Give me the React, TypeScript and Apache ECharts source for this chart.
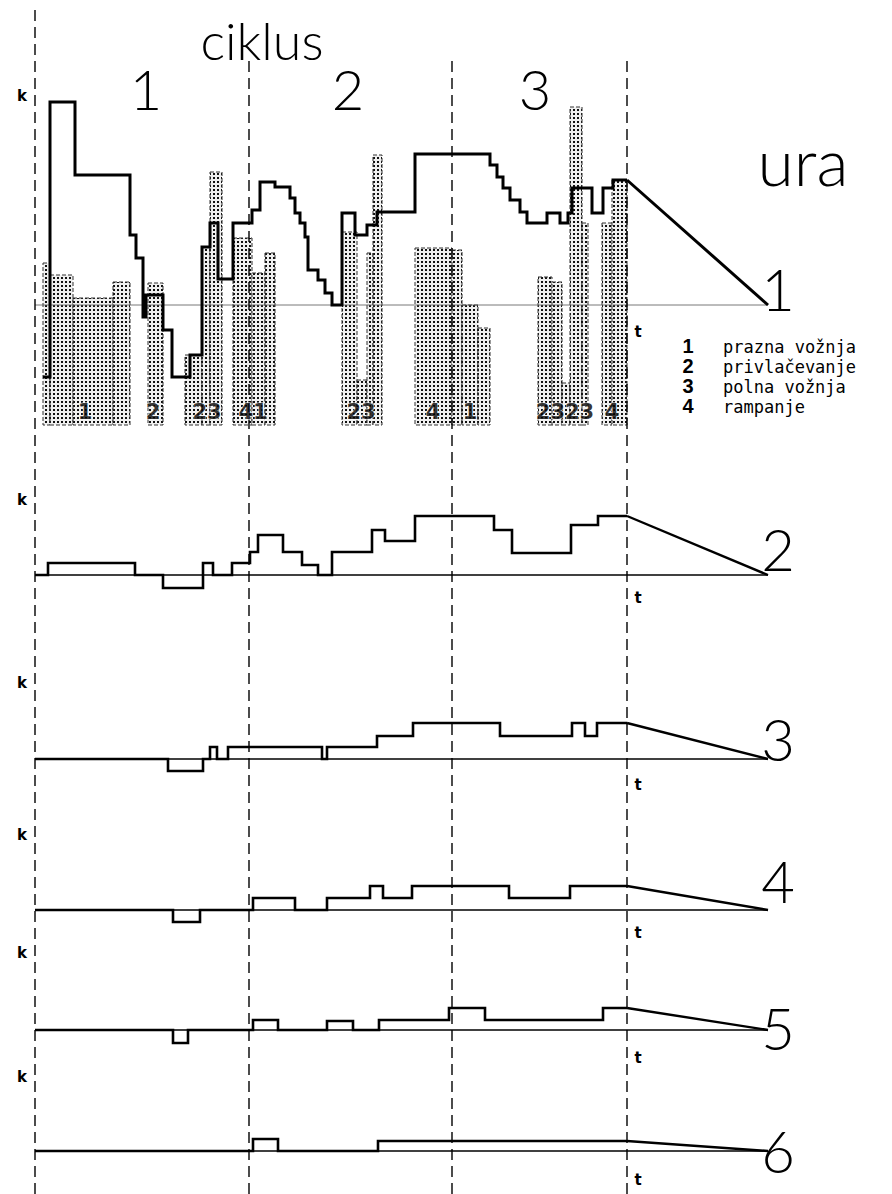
import React, { useEffect, useRef } from "react";
import * as echarts from "echarts";

// ---------- data (time axis t: 0 = start of cycle 1, 1 unit of t / k as drawn) ----------
const tEnd = 73.3;
const cycleBounds = [0, 21.4, 41.7, 59.2];
const cycleLineTop = [0.996, 0.95, 0.95, 0.95];

const cycleNames = ["1", "2", "3"];
const panelNames = ["1", "2", "3", "4", "5", "6"];

// panel 1 : stepped "ura" curve (t, k) – value holds from t onwards
const ura1 = [
  [0.8, -7.2], [1.5, 20.3], [4.0, 13.0], [9.5, 7.0], [10.1, 4.7], [10.8, -1.2],
  [11.1, 1.0], [12.8, -2.5], [13.7, -7.2], [15.5, -5.0], [16.7, 5.8], [17.5, 8.2],
  [18.3, 2.6], [19.8, 8.2], [21.7, 9.5], [22.5, 12.3], [24.0, 11.8], [25.5, 10.7],
  [26.0, 9.2], [26.5, 8.2], [27.0, 6.8], [27.3, 3.5], [28.3, 2.5], [29.0, 1.2],
  [29.7, 0], [30.7, 9.2], [32.0, 7.0], [33.2, 8.0], [34.2, 9.3], [38.0, 15.1],
  [45.5, 14.0], [46.2, 12.8], [46.8, 11.7], [47.5, 10.5], [48.5, 9.3], [49.2, 8.2],
  [51.2, 9.2], [52.5, 8.2], [53.3, 9.2], [53.7, 11.7], [55.7, 9.2], [56.8, 11.7],
  [57.8, 12.5], [59.2, 12.5],
];
// panel 1 : shaded operation blocks [tStart, tEnd, kTop]
const barBase = -12.0;
const ops1 = [
  [0.8, 1.5, 4.2], [1.5, 3.8, 3.0], [3.8, 7.8, 0.7], [7.8, 9.5, 2.3],
  [11.3, 12.8, 2.2],
  [15.0, 16.7, -5.0], [16.7, 17.5, 5.8], [17.5, 18.7, 13.3],
  [19.8, 21.7, 6.7], [21.7, 23.0, 3.2], [23.0, 24.0, 5.2],
  [30.7, 32.2, 7.3], [32.2, 33.2, -7.5], [33.2, 33.8, 5.2], [33.8, 34.7, 15.0],
  [38.0, 41.7, 5.7], [41.7, 42.7, 5.5], [42.7, 44.3, 0.0], [44.3, 45.5, -2.3],
  [50.3, 51.7, 2.8], [51.7, 52.7, 2.3], [52.7, 53.5, -7.8], [53.5, 54.7, 19.8], [54.7, 55.3, 8.2],
  [56.7, 57.7, 8.2], [57.7, 59.2, 12.5],
];
const opLabels = ["1", "2", "23", "41", "23", "4", "1", "2323", "4"];
const opLabelT = [5.0, 11.8, 17.2, 21.8, 32.6, 39.8, 43.5, 53.0, 57.7];
const opLabelK = -10.7;

const ura2 = [
  [0, 0], [1.3, 1.2], [10.0, 0], [12.8, -1.3], [16.8, 1.2], [17.8, 0], [19.7, 1.2],
  [21.5, 2.3], [22.3, 4.0], [24.8, 2.3], [26.7, 1.0], [28.3, 0], [29.7, 2.3],
  [33.7, 4.5], [35.0, 3.4], [38.0, 5.9], [45.9, 4.5], [47.7, 2.2], [53.6, 5.0],
  [56.3, 5.9], [59.2, 5.9],
];
const ura3 = [
  [0, 0], [13.3, -1.2], [16.8, 0], [17.5, 1.2], [18.2, 0], [19.3, 1.2], [28.7, 0],
  [29.2, 1.2], [34.2, 2.3], [37.8, 3.6], [46.5, 2.3], [53.7, 3.6], [55.0, 2.3],
  [56.2, 3.6], [59.2, 3.6],
];
const ura4 = [
  [0, 0], [13.8, -1.2], [16.5, 0], [21.8, 1.2], [26.0, 0], [29.2, 1.2], [33.5, 2.4],
  [34.8, 1.2], [37.7, 2.4], [47.4, 1.2], [53.5, 2.4], [59.2, 2.4],
];
const ura5 = [
  [0, 0], [13.8, -1.3], [15.3, 0], [21.8, 1.0], [24.3, 0], [29.2, 0.9], [31.8, 0],
  [34.4, 1.0], [41.4, 2.2], [45.0, 1.0], [56.8, 2.2], [59.2, 2.2],
];
const ura6 = [
  [0, 0], [21.8, 1.2], [24.3, 0], [34.3, 1.0], [59.2, 1.0],
];

const legendNums = ["1", "2", "3", "4"];
const legendTexts = ["prazna vožnja", "privlačevanje", "polna vožnja", "rampanje"];

// ---------- layout ----------
const W = 892;
const H = 1194;
const PX = 10; // pixels per unit
const gridLeft = 35;
const panelLayout = [
  { top: 95, yMin: -12, yMax: 21 },
  { top: 505, yMin: -2, yMax: 7 },
  { top: 709, yMin: -2, yMax: 5 },
  { top: 870, yMin: -2, yMax: 4 },
  { top: 1000, yMin: -2, yMax: 3 },
  { top: 1131, yMin: -2, yMax: 2 },
];
const kLabelY = [96, 500, 683, 835, 953, 1077];
const tLabelY = [332, 598, 785, 933, 1058, 1180];
const panelNameY = [288, 548, 738, 880, 1027, 1150];

function makeDots() {
  const c = document.createElement("canvas");
  c.width = 4;
  c.height = 4;
  const ctx = c.getContext("2d");
  if (ctx) {
    ctx.fillStyle = "#f0f0f0";
    ctx.fillRect(0, 0, 4, 4);
    ctx.fillStyle = "#111";
    ctx.fillRect(1, 1, 2, 2);
  }
  return c;
}

export default function App() {
  const ref = useRef<HTMLDivElement>(null);
  useEffect(() => {
    if (!ref.current) return;
    const chart = echarts.init(ref.current, undefined, { renderer: "svg" });
    const dots = makeDots();
    const pattern: any = { image: dots, repeat: "repeat", imageWidth: 4, imageHeight: 4 };

    const grids: any[] = [];
    const xAxes: any[] = [];
    const yAxes: any[] = [];
    const series: any[] = [];
    const hiddenAxis = { show: false };

    panelLayout.forEach((p) => {
      grids.push({ left: gridLeft, top: p.top, width: tEnd * PX, height: (p.yMax - p.yMin) * PX });
      xAxes.push({ type: "value", min: 0, max: tEnd, gridIndex: grids.length - 1, ...hiddenAxis });
      yAxes.push({ type: "value", min: p.yMin, max: p.yMax, gridIndex: grids.length - 1, ...hiddenAxis });
    });
    // page-wide grid for the cycle separators
    grids.push({ left: gridLeft, top: 0, width: tEnd * PX, height: H });
    xAxes.push({ type: "value", min: 0, max: tEnd, gridIndex: 6, ...hiddenAxis });
    yAxes.push({ type: "value", min: 0, max: 1, gridIndex: 6, ...hiddenAxis });

    const curves = [ura1, ura2, ura3, ura4, ura5, ura6];

    // panel 1 shaded blocks
    series.push({
      type: "custom",
      xAxisIndex: 0,
      yAxisIndex: 0,
      data: ops1,
      encode: { x: [0, 1], y: 2 },
      z: 1,
      renderItem: (params: any, api: any) => {
        const a = api.coord([api.value(0), api.value(2)]);
        const b = api.coord([api.value(1), barBase]);
        return {
          type: "rect",
          shape: { x: a[0], y: a[1], width: b[0] - a[0], height: b[1] - a[1] },
          style: { fill: pattern, stroke: "#333", lineWidth: 1, lineDash: [4, 2] },
        };
      },
    });
    series.push({
      type: "scatter",
      xAxisIndex: 0,
      yAxisIndex: 0,
      symbolSize: 0,
      z: 5,
      data: opLabels.map((n, i) => ({ name: n, value: [opLabelT[i], opLabelK] })),
      label: {
        show: true,
        position: "inside",
        formatter: "{b}",
        fontFamily: "DejaVu Sans",
        fontWeight: "bold",
        fontSize: 21,
        color: "#000",
        textBorderColor: "rgba(255,255,255,0.85)",
        textBorderWidth: 1.5,
      },
    });

    curves.forEach((c, i) => {
      // baseline
      series.push({
        type: "line",
        xAxisIndex: i,
        yAxisIndex: i,
        data: [[0, 0], [tEnd, 0]],
        showSymbol: false,
        silent: true,
        z: 2,
        lineStyle: i === 0 ? { color: "#555", width: 0.8 } : { color: "#000", width: 1.6 },
      });
      // stepped curve
      series.push({
        type: "line",
        xAxisIndex: i,
        yAxisIndex: i,
        step: "end",
        data: c,
        showSymbol: false,
        z: 4,
        lineStyle: { color: "#000", width: i === 0 ? 3 : 2.6, join: "miter" },
      });
      // run-out to zero after the last cycle
      const last = c[c.length - 1];
      series.push({
        type: "line",
        xAxisIndex: i,
        yAxisIndex: i,
        data: [last, [tEnd, 0]],
        showSymbol: false,
        z: 4,
        lineStyle: { color: "#000", width: i === 0 ? 3 : 2.4 },
      });
    });

    cycleBounds.forEach((b, i) => {
      series.push({
        type: "line",
        xAxisIndex: 6,
        yAxisIndex: 6,
        data: [[b, 0], [b, cycleLineTop[i]]],
        showSymbol: false,
        silent: true,
        z: 3,
        lineStyle: { color: "#000", width: 1.4, type: [11, 6] },
      });
    });

    const thin = "Lato";
    const texts: any[] = [];
    const txt = (
      text: string, x: number, y: number, font: string, size: number, weight: any,
      align = "center", lineHeight?: number,
    ) => {
      texts.push({
        type: "text",
        x,
        y,
        z: 10,
        style: {
          text,
          fontFamily: font,
          fontSize: size,
          fontWeight: weight,
          lineHeight: lineHeight || size,
          fill: "#000",
          align,
          verticalAlign: "middle",
          textAlign: align,
          textVerticalAlign: "middle",
        },
      });
    };
    txt("ciklus", 262, 40, thin, 52, 300);
    const cycleX = [146, 348, 535];
    cycleNames.forEach((n, i) => txt(n, cycleX[i], 88, thin, 56, 300));
    txt("ura", 803, 160, thin, 66, 300);
    panelNames.forEach((n, i) => txt(n, 778, panelNameY[i], thin, 58, 300));
    kLabelY.forEach((y) => txt("k", 22, y, "DejaVu Sans", 15, "bold"));
    tLabelY.forEach((y) => txt("t", 638, y, "DejaVu Sans", 15, "bold"));
    txt(legendNums.join("\n"), 688, 376, "Liberation Sans", 20, "bold", "center", 20);
    txt(legendTexts.join("\n"), 723, 377, "DejaVu Sans Mono", 17, "normal", "left", 20);

    chart.setOption({
      animation: false,
      backgroundColor: "#fff",
      grid: grids,
      xAxis: xAxes,
      yAxis: yAxes,
      series,
      graphic: { elements: texts },
    });
    return () => chart.dispose();
  }, []);
  return (
    <div
      ref={ref}
      style={{ position: "absolute", left: 0, top: 0, width: W, height: H, background: "#fff" }}
    />
  );
}
